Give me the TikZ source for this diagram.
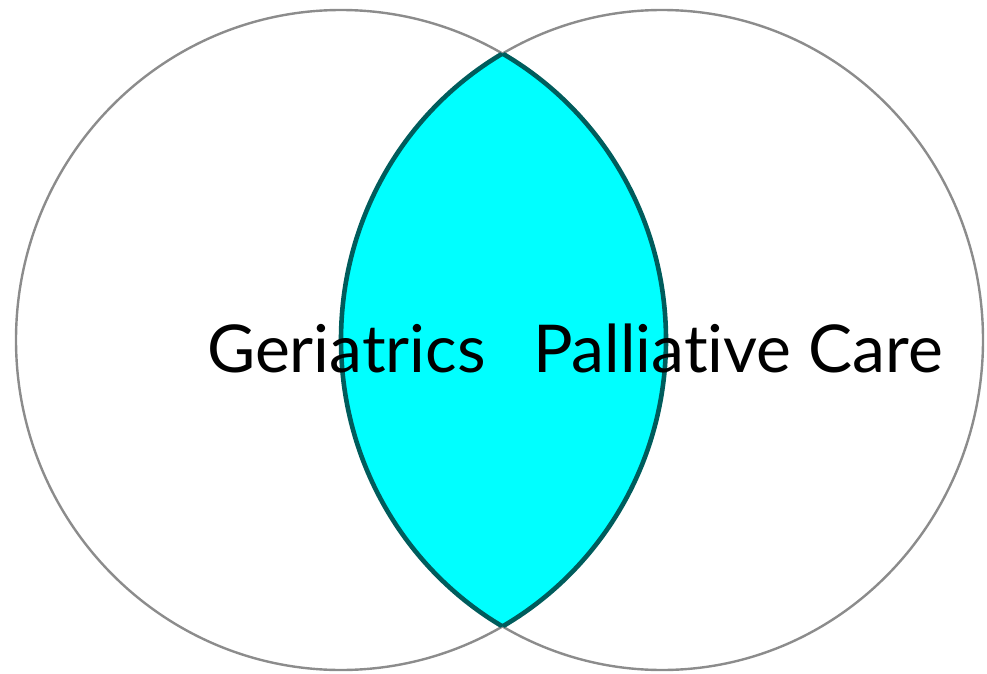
\documentclass[tikz,border=0pt]{standalone}
\usepackage{fontspec}
\setmainfont{Lato}[Ligatures={NoCommon,NoRequired,NoContextual}]
\definecolor{ringgray}{RGB}{140,140,140}
\definecolor{lensedge}{RGB}{0,92,92}
\definecolor{lensfill}{RGB}{0,255,255}
\tikzset{vennlabel/.style={anchor=base west, inner sep=0pt, font=\fontsize{66}{78}\selectfont}}
\begin{document}
\begin{tikzpicture}[x=1pt,y=-1pt]
\useasboundingbox (0,0) rectangle (987,674);
\draw[line width=2.4pt, ringgray] (341,340) ellipse [x radius=325, y radius=330];
\draw[line width=2.4pt, ringgray] (662,340) ellipse [x radius=321, y radius=330];
\begin{scope}
\clip (341,340) ellipse [x radius=325, y radius=330];
\filldraw[line width=4.6pt, draw=lensedge, fill=lensfill] (662,340) ellipse [x radius=321, y radius=330];
\end{scope}
\begin{scope}
\clip (662,340) ellipse [x radius=321, y radius=330];
\draw[line width=4.6pt, lensedge] (341,340) ellipse [x radius=325, y radius=330];
\end{scope}
\node[vennlabel] (geri) at (207,372) {Geriatrics};
\node[vennlabel] (palli) at (533,372) {Palliative Care};
\end{tikzpicture}
\end{document}
